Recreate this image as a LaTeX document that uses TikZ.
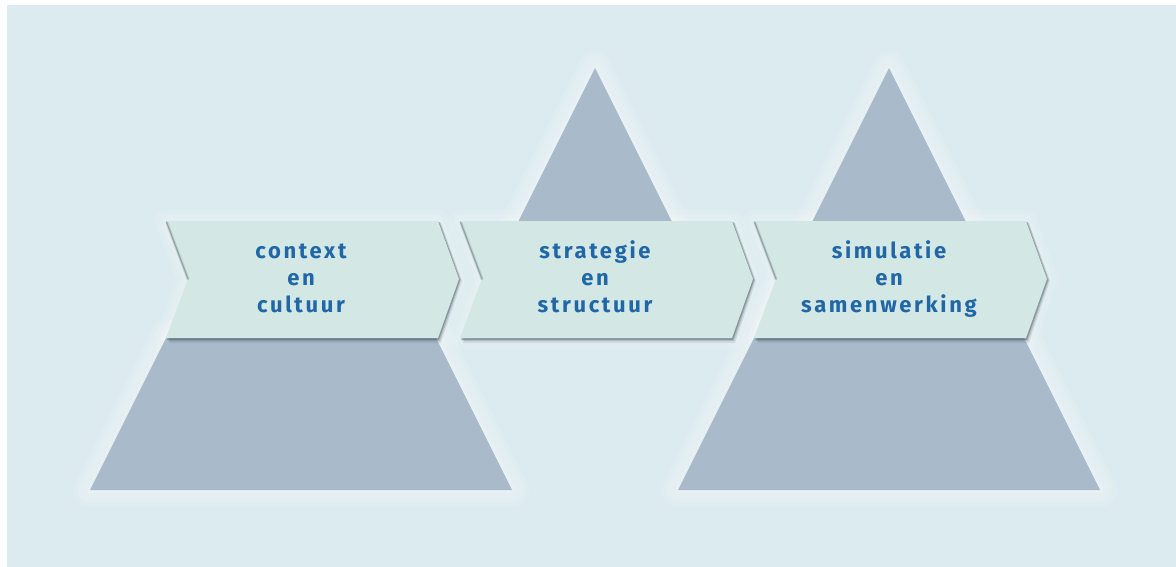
\documentclass[tikz,border=0pt]{standalone}
\usepackage{fontspec}
\newfontfamily\labelfont[LetterSpace=12]{Fira Sans}
\definecolor{bgc}{HTML}{DCEBEF}
\definecolor{pyrc}{HTML}{A9BBCA}
\definecolor{chevc}{HTML}{D3E7E4}
\definecolor{txtc}{HTML}{1F67A6}
\definecolor{shadc}{HTML}{3C4E58}
\tikzset{
  halo/.style={draw=white, line join=round, draw opacity=0.11, line width=#1},
  pyr/.style={fill=pyrc},
  chev/.style={fill=chevc},
  chevshadow/.style={fill=shadc, fill opacity=#1},
  notchline/.style={draw=shadc, line cap=round, draw opacity=#1},
  lbl/.style={font=\labelfont\bfseries\fontsize{22}{27}\selectfont, text=txtc,
    align=center, inner sep=0pt, text height=15pt, text depth=5pt}
}
\def\pyrA{(90,490) -- (167,336) -- (435,336) -- (512,490) -- cycle}
\def\pyrB{(595,68) -- (674,226) -- (516,226) -- cycle}
\def\pyrC{(889,68) -- (1100,490) -- (678,490) -- cycle}
\begin{document}
\begin{tikzpicture}[x=1pt,y=-1pt]
\useasboundingbox (0,0) rectangle (1176,567);
\fill[white] (0,0) rectangle (1176,567);
\fill[bgc] (7,5) rectangle (1176,567);
% soft white halos round the pyramids
\foreach \w in {34,24,14,7} {
  \draw[halo=\w] \pyrA;
  \draw[halo=\w] \pyrB;
  \draw[halo=\w] \pyrC;
}
% soft halos round the chevrons
\foreach \x in {166,460,754} {
  \foreach \w in {22,12,6} {
    \draw[halo=\w] (\x,221) -- ++(272,0) -- ++(21,58) -- ++(-21,59) -- ++(-272,0) -- ++(22,-59) -- cycle;
  }
}
% pyramids
\fill[pyr] \pyrA;
\fill[pyr] \pyrB;
\fill[pyr] \pyrC;
% chevrons
\foreach \x in {166,460,754} {
  \fill[chevshadow=0.12] (\x+3,223) -- ++(272,0) -- ++(21,58) -- ++(-21,62) -- ++(-272,0) -- ++(22,-62) -- cycle;
  \fill[chevshadow=0.22] (\x+2,222) -- ++(272,0) -- ++(21,58) -- ++(-21,61) -- ++(-272,0) -- ++(22,-61) -- cycle;
  \fill[chevshadow=0.35] (\x+1,222) -- ++(272,0) -- ++(21,58) -- ++(-21,59.8) -- ++(-272,0) -- ++(22,-59.8) -- cycle;
  \fill[chev] (\x,221) -- ++(272,0) -- ++(21,58) -- ++(-21,59) -- ++(-272,0) -- ++(22,-59) -- cycle;
  \draw[notchline=0.15, line width=3] (\x+1,223) -- (\x+22,279);
  \draw[notchline=0.35, line width=1.2] (\x+0.5,222) -- (\x+22,279);
}
% labels
\node[lbl] (t1) at (301,307) {context\\en\\cultuur};
\node[lbl] (t2) at (595,307) {strategie\\en\\structuur};
\node[lbl] (t3) at (889,307) {simulatie\\en\\samenwerking};
\end{tikzpicture}
\end{document}
